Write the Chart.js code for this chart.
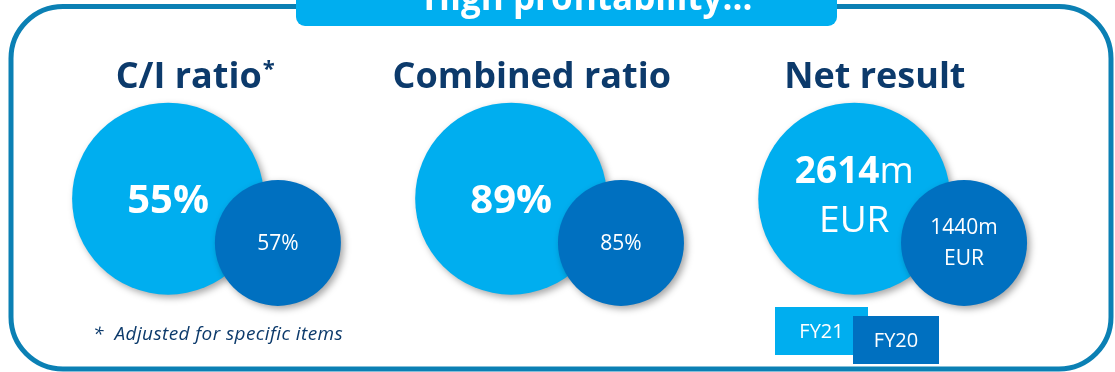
<!DOCTYPE html>
<html>
<head>
<meta charset="utf-8">
<title>High profitability</title>
<script src="https://cdn.jsdelivr.net/npm/chart.js@4/dist/chart.umd.min.js"></script>
<style>
  html, body { margin: 0; padding: 0; background: #fff; }
  canvas { display: block; }
</style>
</head>
<body>
<canvas id="kpi" width="1115" height="372"></canvas>
<script>
// figures per metric, current year vs previous year
const metrics = ['C/I ratio', 'Combined ratio', 'Net result'];
const titleMarks = ['*', '', ''];
const fy21 = [55, 89, 2614];
const fy20 = [57, 85, 1440];
const units = ['%', '%', 'm EUR'];
const years = ['FY21', 'FY20'];
const heading = 'High profitability...';
const footnote = '*  Adjusted for specific items';

const FONT = '"Open Sans", "Noto Sans", sans-serif';
const NAVY = '#0c3a6b';
const LIGHT = '#00aeef';
const DARK = '#0070c0';
const FRAME = '#0b80b4';

// bubble look per year: [big light, small dark]
const looks = [
    { color: LIGHT, r: 96, dx: 0, row: 53.4, valueFont: 'bold 40px', small: false },
    { color: DARK, r: 63, dx: 0.32, row: 65.3, valueFont: '21px', small: true }
];

// bubbles are placed on the whole canvas, no auto inset for their radius
Chart.BubbleController.prototype.getMaxOverflow = function () { return false; };

const roundRect = (ctx, x, y, w, h, r) => {
    ctx.beginPath();
    ctx.moveTo(x + r, y);
    ctx.lineTo(x + w - r, y);
    ctx.arcTo(x + w, y, x + w, y + r, r);
    ctx.lineTo(x + w, y + h - r);
    ctx.arcTo(x + w, y + h, x + w - r, y + h, r);
    ctx.lineTo(x + r, y + h);
    ctx.arcTo(x, y + h, x, y + h - r, r);
    ctx.lineTo(x, y + r);
    ctx.arcTo(x, y, x + r, y, r);
    ctx.closePath();
};

// frame, heading tab
const framePlugin = {
    id: 'frame',
    beforeDraw(chart) {
        const ctx = chart.ctx;
        ctx.save();
        ctx.fillStyle = '#fff';
        ctx.fillRect(0, 0, chart.width, chart.height);
        roundRect(ctx, 11, 6.5, 1100, 362.5, 52);
        ctx.lineWidth = 5;
        ctx.strokeStyle = FRAME;
        ctx.stroke();
        // tab with bottom rounded corners, running off the top
        roundRect(ctx, 296, -20, 541, 46, 9);
        ctx.fillStyle = LIGHT;
        ctx.fill();
        ctx.fillStyle = '#fff';
        ctx.font = 'bold 35px ' + FONT;
        ctx.textAlign = 'center';
        ctx.textBaseline = 'alphabetic';
        ctx.fillText(heading, 588, 10);
        ctx.restore();
    }
};

// soft drop shadow under the bubbles
const shadowPlugin = {
    id: 'bubbleShadow',
    beforeDatasetDraw(chart) {
        const ctx = chart.ctx;
        ctx.save();
        ctx.shadowColor = 'rgba(0, 0, 0, 0.35)';
        ctx.shadowBlur = 7;
        ctx.shadowOffsetX = 3;
        ctx.shadowOffsetY = 3;
    },
    afterDatasetDraw(chart) {
        chart.ctx.restore();
    }
};

// values inside bubbles, metric titles, footnote, year keys
const textPlugin = {
    id: 'texts',
    afterDatasetsDraw(chart) {
        const ctx = chart.ctx;
        const xs = chart.scales.x;
        ctx.save();
        ctx.textAlign = 'center';
        ctx.textBaseline = 'middle';
        ctx.fillStyle = '#fff';

        chart.data.datasets.forEach((ds, d) => {
            const look = looks[ds.look];
            const meta = chart.getDatasetMeta(d);
            meta.data.forEach((el, i) => {
                const v = ds.data[i].v;
                const unit = units[i];
                if (unit === '%') {
                    ctx.font = look.valueFont + ' ' + FONT;
                    ctx.fillText(v + unit, el.x, el.y + (look.small ? 1 : 3));
                    return;
                }
                // amount on first line, currency on second
                const [suffix, cur] = unit.split(' ');
                if (look.small) {
                    ctx.font = '21px ' + FONT;
                    ctx.fillText(v + suffix, el.x, el.y - 15);
                    ctx.fillText(cur, el.x, el.y + 16);
                } else {
                    ctx.font = 'bold 37px ' + FONT;
                    const wNum = ctx.measureText(String(v)).width;
                    ctx.font = '37px ' + FONT;
                    const wSuf = ctx.measureText(suffix).width;
                    const x0 = el.x - (wNum + wSuf) / 2;
                    ctx.textAlign = 'left';
                    ctx.font = 'bold 37px ' + FONT;
                    ctx.fillText(String(v), x0, el.y - 26);
                    ctx.font = '37px ' + FONT;
                    ctx.fillText(suffix, x0 + wNum, el.y - 26);
                    ctx.textAlign = 'center';
                    ctx.fillText(cur, el.x, el.y + 23);
                }
            });
        });

        // metric titles
        ctx.fillStyle = NAVY;
        ctx.textBaseline = 'alphabetic';
        metrics.forEach((m, i) => {
            const cx = xs.getPixelForValue(i + 0.06);
            ctx.font = 'bold 36px ' + FONT;
            ctx.textAlign = 'center';
            ctx.fillText(m, cx, 88);
            if (titleMarks[i]) {
                const w = ctx.measureText(m).width;
                ctx.font = 'bold 22px ' + FONT;
                ctx.textAlign = 'left';
                ctx.fillText(titleMarks[i], cx + w / 2 + 1, 76);
            }
        });

        // footnote
        ctx.font = 'italic 19px ' + FONT;
        ctx.letterSpacing = '0.4px';
        ctx.textAlign = 'left';
        ctx.fillText(footnote, 93, 340);
        ctx.letterSpacing = '0px';

        // year keys, overlapping boxes
        const keys = [
            { x: 775, y: 307, w: 93, h: 48, color: LIGHT },
            { x: 853, y: 316, w: 86, h: 48, color: DARK }
        ];
        keys.forEach((k, i) => {
            ctx.fillStyle = k.color;
            ctx.fillRect(k.x, k.y, k.w, k.h);
            ctx.fillStyle = '#fff';
            ctx.font = '20px ' + FONT;
            ctx.textAlign = 'center';
            ctx.textBaseline = 'middle';
            ctx.fillText(years[i], k.x + k.w / 2, k.y + k.h / 2 + 1);
        });
        ctx.restore();
    }
};

const points = (values, look) =>
    values.map((v, i) => ({ x: i + look.dx, y: look.row, r: look.r, v }));

new Chart(document.getElementById('kpi').getContext('2d'), {
    type: 'bubble',
    data: {
        datasets: [
            {
                label: years[1],
                look: 1,
                order: 0,
                data: points(fy20, looks[1]),
                backgroundColor: DARK,
                borderWidth: 0,
                clip: false
            },
            {
                label: years[0],
                look: 0,
                order: 1,
                data: points(fy21, looks[0]),
                backgroundColor: LIGHT,
                borderWidth: 0,
                clip: false
            }
        ]
    },
    options: {
        responsive: false,
        animation: false,
        events: [],
        layout: { padding: 0 },
        scales: {
            x: { type: 'linear', min: -0.49, max: 2.76, display: false },
            y: { type: 'linear', min: 0, max: 100, reverse: true, display: false }
        },
        plugins: {
            legend: { display: false },
            tooltip: { enabled: false }
        }
    },
    plugins: [framePlugin, shadowPlugin, textPlugin]
});
</script>
</body>
</html>
